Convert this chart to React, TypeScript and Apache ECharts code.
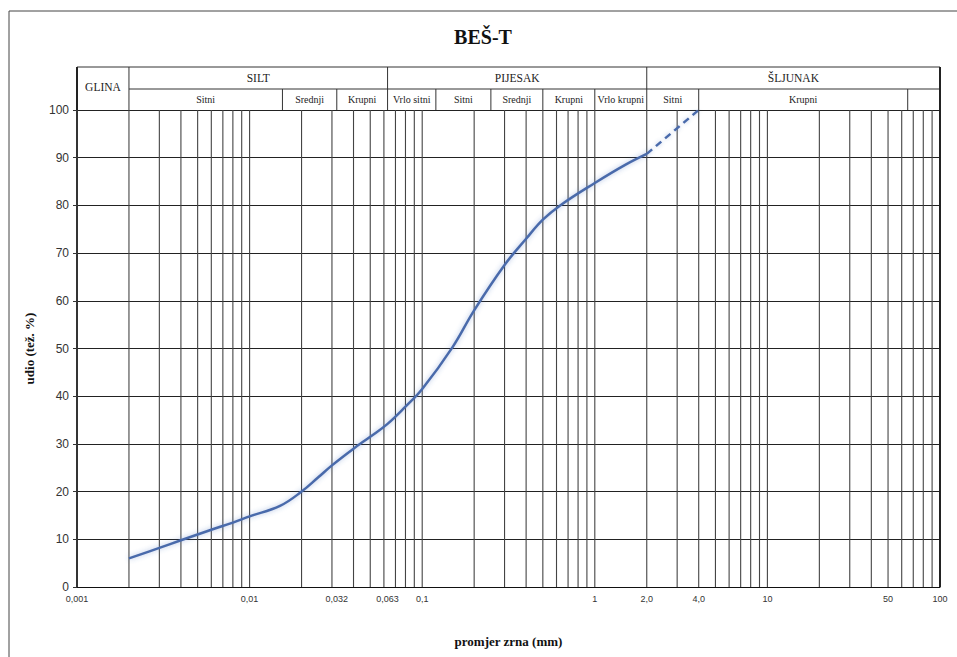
import React, { useEffect, useRef } from 'react';
import * as echarts from 'echarts';

const titleText = 'BEŠ-T';
const xAxisTitle = 'promjer zrna (mm)';
const yAxisTitle = 'udio (tež. %)';

// grain size distribution curve (mm, % passing)
const grainSize = [0.002, 0.003, 0.004, 0.006, 0.008, 0.01, 0.015, 0.02, 0.025, 0.03, 0.04, 0.05, 0.063, 0.08, 0.1, 0.15, 0.2, 0.3, 0.4, 0.5, 0.63, 1.0, 1.5, 2.0];
const passing = [6, 8.2, 9.8, 12.0, 13.5, 14.8, 17, 20, 23, 25.5, 29, 31.5, 34.2, 37.8, 41.5, 50.3, 58, 67.5, 73, 77, 80, 84.7, 88.5, 90.8];
// dashed extrapolated part
const extrapSize = [2.0, 4.0];
const extrapPassing = [90.8, 100];

// x-axis tick labels
const xTickValues = [0.001, 0.01, 0.032, 0.063, 0.1, 1, 2, 4, 10, 50, 100];
const xTickLabels = ['0,001', '0,01', '0,032', '0,063', '0,1', '1', '2,0', '4,0', '10', '50', '100'];

// logarithmic grid lines
const decades = [0.001, 0.01, 0.1, 1, 10];
const steps = [1, 2, 3, 4, 5, 6, 7, 8, 9];

// classification header
const mainClasses = ['GLINA', 'SILT', 'PIJESAK', 'ŠLJUNAK'];
const mainBounds = [0.001, 0.002, 0.063, 2, 100];
const subClasses = ['Sitni', 'Srednji', 'Krupni', 'Vrlo sitni', 'Sitni', 'Srednji', 'Krupni', 'Vrlo krupni', 'Sitni', 'Krupni', ''];
const subBounds = [0.002, 0.0155, 0.032, 0.063, 0.12, 0.25, 0.5, 1, 2, 4, 65, 100];

export default function App() {
  const ref = useRef<HTMLDivElement>(null);
  useEffect(() => {
    const chart = echarts.init(ref.current!, null, { renderer: 'svg' });
    const gridValues: number[] = [];
    decades.forEach((d) => steps.forEach((s) => gridValues.push(+(d * s).toPrecision(3))));
    gridValues.push(100);

    chart.setOption({
      animation: false,
      backgroundColor: '#fff',
      title: {
        text: titleText,
        left: 478,
        top: 22,
        textAlign: 'center',
        textStyle: { fontFamily: 'Liberation Serif', fontWeight: 'bold', fontSize: 20, color: '#111' },
      },
      grid: { left: 77, right: 17, top: 110, bottom: 70 },
      xAxis: {
        type: 'log',
        logBase: 10,
        min: 0.001,
        max: 100,
        name: xAxisTitle,
        nameLocation: 'middle',
        nameGap: 48,
        nameTextStyle: { fontFamily: 'Liberation Serif', fontWeight: 'bold', fontSize: 13, color: '#111' },
        axisLine: { show: true, lineStyle: { color: '#111', width: 1 } },
        axisTick: { show: false },
        splitLine: { show: false },
        minorTick: { show: false },
        axisLabel: {
          customValues: xTickValues,
          fontSize: 9,
          color: '#333',
          fontFamily: 'Liberation Sans',
          margin: 7,
          formatter: (v: number) => {
            const i = xTickValues.findIndex((t) => Math.abs(t - v) / t < 1e-6);
            return i >= 0 ? xTickLabels[i] : '';
          },
        },
      },
      yAxis: {
        type: 'value',
        min: 0,
        max: 100,
        interval: 10,
        name: yAxisTitle,
        nameLocation: 'middle',
        nameGap: 41,
        nameRotate: 90,
        nameTextStyle: { fontFamily: 'Liberation Serif', fontWeight: 'bold', fontSize: 13, color: '#111' },
        axisLine: { show: true, lineStyle: { color: '#222', width: 2 } },
        axisTick: { show: true, length: 4, lineStyle: { color: '#333' } },
        axisLabel: { fontSize: 12, color: '#333', fontFamily: 'Liberation Sans', margin: 8 },
        splitLine: { show: true, lineStyle: { color: '#222', width: 1 } },
      },
      series: [
        {
          type: 'custom',
          silent: true,
          z: 1,
          data: gridValues.map((v) => [v]),
          encode: { x: 0 },
          renderItem: (params: any, api: any) => {
            const v = api.value(0);
            const p0 = api.coord([v, 0]);
            const p1 = api.coord([v, 100]);
            const edge = v >= 100;
            return {
              type: 'line',
              shape: { x1: p0[0], y1: p0[1], x2: p1[0], y2: p1[1] },
              style: { stroke: edge ? '#222' : '#444', lineWidth: edge ? 2 : 1.1 },
            };
          },
        },
        {
          type: 'line',
          data: grainSize.map((x, i) => [x, passing[i]]),
          smooth: 0.4,
          symbol: 'none',
          z: 5,
          lineStyle: { color: '#4a6bab', width: 2.5, shadowBlur: 5, shadowColor: 'rgba(70,110,190,0.45)' },
        },
        {
          type: 'line',
          data: extrapSize.map((x, i) => [x, extrapPassing[i]]),
          symbol: 'none',
          z: 5,
          lineStyle: { color: '#4a6bab', width: 2.5, type: [7, 5], shadowBlur: 4, shadowColor: 'rgba(70,110,190,0.4)' },
        },
      ],
    });

    const xp = (v: number) => chart.convertToPixel({ xAxisIndex: 0 }, v) as number;
    const yTop = chart.convertToPixel({ yAxisIndex: 0 }, 100) as number;
    const hTop = yTop - 43;
    const hMid = yTop - 21;
    const lineStyle = { stroke: '#333', lineWidth: 1 };
    const elements: any[] = [];
    // outer frame
    elements.push({ type: 'line', shape: { x1: 9, y1: 11, x2: 957, y2: 11 }, style: { stroke: '#444', lineWidth: 1 } });
    elements.push({ type: 'line', shape: { x1: 9, y1: 11, x2: 9, y2: 657 }, style: { stroke: '#444', lineWidth: 1 } });
    // header horizontal lines
    elements.push({ type: 'line', shape: { x1: xp(0.001), y1: hTop, x2: xp(100), y2: hTop }, style: lineStyle });
    elements.push({ type: 'line', shape: { x1: xp(0.002), y1: hMid, x2: xp(100), y2: hMid }, style: lineStyle });
    // main vertical lines
    mainBounds.forEach((b, i) => {
      const edge = i === 0 || i === mainBounds.length - 1;
      elements.push({
        type: 'line',
        shape: { x1: xp(b), y1: hTop, x2: xp(b), y2: yTop },
        style: { stroke: edge ? '#222' : '#333', lineWidth: edge ? 2 : 1 },
      });
    });
    mainClasses.forEach((name, i) => {
      const cx = (xp(mainBounds[i]) + xp(mainBounds[i + 1])) / 2;
      const cy = i === 0 ? (hTop + yTop) / 2 - 2 : (hTop + hMid) / 2;
      elements.push({
        type: 'text',
        x: cx,
        y: cy,
        style: { text: name, fontFamily: 'Liberation Serif', fontSize: 11.5, fill: '#222', align: 'center', verticalAlign: 'middle' },
      });
    });
    subBounds.forEach((b) => {
      if (mainBounds.indexOf(b) >= 0) return;
      elements.push({ type: 'line', shape: { x1: xp(b), y1: hMid, x2: xp(b), y2: yTop }, style: lineStyle });
    });
    subClasses.forEach((name, i) => {
      if (!name) return;
      const cx = (xp(subBounds[i]) + xp(subBounds[i + 1])) / 2;
      elements.push({
        type: 'text',
        x: cx,
        y: (hMid + yTop) / 2,
        style: { text: name, fontFamily: 'Liberation Serif', fontSize: 10, fill: '#222', align: 'center', verticalAlign: 'middle' },
      });
    });
    chart.setOption({ graphic: elements });

    return () => chart.dispose();
  }, []);
  return (
    <div
      ref={ref}
      style={{ position: 'fixed', left: 0, top: 0, width: 957, height: 657, background: '#fff' }}
    />
  );
}
